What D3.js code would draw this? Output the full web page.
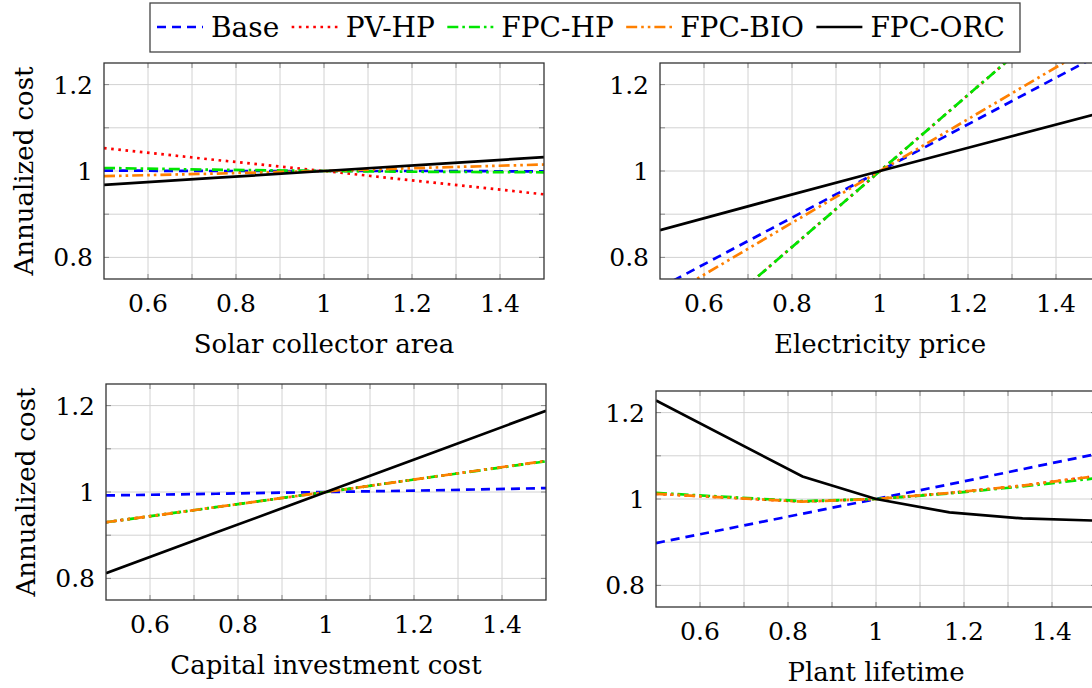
<!DOCTYPE html>
<html>
<head>
<meta charset="utf-8">
<script src="https://cdn.jsdelivr.net/npm/d3@7"></script>
<style>
body { margin: 0; background: #fff; }
text { font-family: "DejaVu Serif", serif; fill: #000; }
</style>
</head>
<body>
<svg id="chart" width="1092" height="688"></svg>
<script>
// series, in legend order
var seriesNames = ["Base", "PV-HP", "FPC-HP", "FPC-BIO", "FPC-ORC"];
var seriesColors = ["#0000ff", "#ff0000", "#00e600", "#ff8000", "#000000"];
var seriesDash = ["9,6", "2.6,4.6", "11,4,2.6,4", "11,4,2.6,4,2.6,4", null];

// x values (relative change of the parameter)
var xLinear = [0.5, 0.75, 1, 1.25, 1.5];
var xLifetime = [0.5, 0.833, 1, 1.167, 1.333, 1.5];

// values, one row per series
var solarArea = [
  [1.001, 1.0, 1.0, 1.0, 0.999],
  [1.053, 1.026, 1.0, 0.973, 0.946],
  [1.007, 1.003, 1.0, 0.998, 0.997],
  [0.988, 0.994, 1.0, 1.008, 1.015],
  [0.968, 0.984, 1.0, 1.016, 1.032]
];
var elecPrice = [
  [0.73, 0.865, 1.0, 1.135, 1.27],
  [0.56, 0.78, 1.0, 1.22, 1.44],
  [0.56, 0.78, 1.0, 1.22, 1.44],
  [0.70, 0.85, 1.0, 1.15, 1.30],
  [0.863, 0.932, 1.0, 1.067, 1.134]
];
var capitalCost = [
  [0.992, 0.996, 1.0, 1.004, 1.009],
  [0.930, 0.965, 1.0, 1.036, 1.072],
  [0.930, 0.965, 1.0, 1.036, 1.071],
  [0.930, 0.965, 1.0, 1.036, 1.072],
  [0.812, 0.906, 1.0, 1.094, 1.188]
];
var plantLife = [
  [0.898, 0.966, 1.0, 1.034, 1.069, 1.104],
  [1.012, 0.994, 1.0, 1.014, 1.031, 1.053],
  [1.014, 0.995, 1.0, 1.013, 1.029, 1.048],
  [1.012, 0.994, 1.0, 1.014, 1.031, 1.053],
  [1.228, 1.052, 1.0, 0.969, 0.955, 0.950]
];

var xTicks = [0.6, 0.8, 1, 1.2, 1.4];
var yTicks = [0.8, 1, 1.2];

var panels = [
  {title: "Solar collector area", x: xLinear, values: solarArea, left: 104, top: 63, yTitle: true},
  {title: "Electricity price", x: xLinear, values: elecPrice, left: 660, top: 63, yTitle: false},
  {title: "Capital investment cost", x: xLinear, values: capitalCost, left: 106, top: 384, yTitle: true},
  {title: "Plant lifetime", x: xLifetime, values: plantLife, left: 656, top: 391, yTitle: false}
];

var pw = 440, ph = 216;
var svg = d3.select("#chart");
var fmt = function(d) { return String(+d.toFixed(1)); };

panels.forEach(function(p, pi) {
  var x = d3.scaleLinear().domain([0.5, 1.5]).range([0, pw]);
  var y = d3.scaleLinear().domain([0.75, 1.25]).range([ph, 0]);
  var g = svg.append("g").attr("transform", "translate(" + p.left + "," + p.top + ")");

  g.append("clipPath").attr("id", "clip" + pi)
    .append("rect").attr("width", pw).attr("height", ph);

  // grid (major + minor every 0.1)
  var gx = d3.range(0.6, 1.45, 0.1);
  var gy = d3.range(0.8, 1.25, 0.1);
  g.selectAll(".gx").data(gx).enter().append("line")
    .attr("x1", function(d) { return x(d); }).attr("x2", function(d) { return x(d); })
    .attr("y1", 0).attr("y2", ph)
    .attr("stroke", "#d2d2d2").attr("stroke-width", 1);
  g.selectAll(".gy").data(gy).enter().append("line")
    .attr("y1", function(d) { return y(d); }).attr("y2", function(d) { return y(d); })
    .attr("x1", 0).attr("x2", pw)
    .attr("stroke", "#d2d2d2").attr("stroke-width", 1);

  // tick marks on all four sides
  gx.forEach(function(d) {
    g.append("line").attr("x1", x(d)).attr("x2", x(d)).attr("y1", ph).attr("y2", ph - 5)
      .attr("stroke", "#888").attr("stroke-width", 1);
    g.append("line").attr("x1", x(d)).attr("x2", x(d)).attr("y1", 0).attr("y2", 5)
      .attr("stroke", "#888").attr("stroke-width", 1);
  });
  gy.forEach(function(d) {
    g.append("line").attr("y1", y(d)).attr("y2", y(d)).attr("x1", 0).attr("x2", 5)
      .attr("stroke", "#888").attr("stroke-width", 1);
    g.append("line").attr("y1", y(d)).attr("y2", y(d)).attr("x1", pw).attr("x2", pw - 5)
      .attr("stroke", "#888").attr("stroke-width", 1);
  });

  // series lines
  var line = d3.line()
    .x(function(d) { return x(d[0]); })
    .y(function(d) { return y(d[1]); });
  var lines = g.append("g").attr("clip-path", "url(#clip" + pi + ")");
  p.values.forEach(function(vals, si) {
    var pts = vals.map(function(v, i) { return [p.x[i], v]; });
    lines.append("path")
      .attr("d", line(pts))
      .attr("fill", "none")
      .attr("stroke", seriesColors[si])
      .attr("stroke-width", 2.7)
      .attr("stroke-dasharray", seriesDash[si]);
  });

  // frame
  g.append("rect").attr("width", pw).attr("height", ph)
    .attr("fill", "none").attr("stroke", "#333").attr("stroke-width", 1.3);

  // tick labels
  g.selectAll(".xl").data(xTicks).enter().append("text")
    .attr("x", function(d) { return x(d); }).attr("y", ph + 33)
    .attr("text-anchor", "middle").style("font-size", "25px")
    .text(fmt);
  g.selectAll(".yl").data(yTicks).enter().append("text")
    .attr("x", -11).attr("y", function(d) { return y(d); }).attr("dy", "0.36em")
    .attr("text-anchor", "end").style("font-size", "25px")
    .text(fmt);

  // axis titles
  g.append("text").attr("x", pw / 2).attr("y", ph + 74)
    .attr("text-anchor", "middle").style("font-size", "26px")
    .text(p.title);
  if (p.yTitle) {
    g.append("text")
      .attr("transform", "translate(-71," + (ph / 2) + ") rotate(-90)")
      .attr("text-anchor", "middle").style("font-size", "26px")
      .text("Annualized cost");
  }
});

// LEGEND
var legend = svg.append("g");
var box = legend.append("rect")
  .attr("x", 150).attr("y", 3).attr("height", 49)
  .attr("fill", "#fff").attr("stroke", "#444").attr("stroke-width", 1.3);

var sampleW = 46, textGap = 8;
var labels = seriesNames.map(function(name) {
  return legend.append("text").attr("y", 27).attr("dy", "0.36em")
    .style("font-size", "28px").text(name);
});
var widths = labels.map(function(t) { return t.node().getComputedTextLength(); });
// spread the entries so the row fills the box like the original
var spare = (1005 - 157) - seriesNames.length * (sampleW + textGap) - d3.sum(widths);
var entryGap = spare / (seriesNames.length - 1);

var lx = 157;
seriesNames.forEach(function(name, si) {
  legend.append("line")
    .attr("x1", lx).attr("x2", lx + sampleW).attr("y1", 27).attr("y2", 27)
    .attr("stroke", seriesColors[si]).attr("stroke-width", 2.7)
    .attr("stroke-dasharray", seriesDash[si]);
  labels[si].attr("x", lx + sampleW + textGap);
  lx = lx + sampleW + textGap + widths[si] + entryGap;
});
box.attr("width", 1020 - 150);
</script>
</body>
</html>
